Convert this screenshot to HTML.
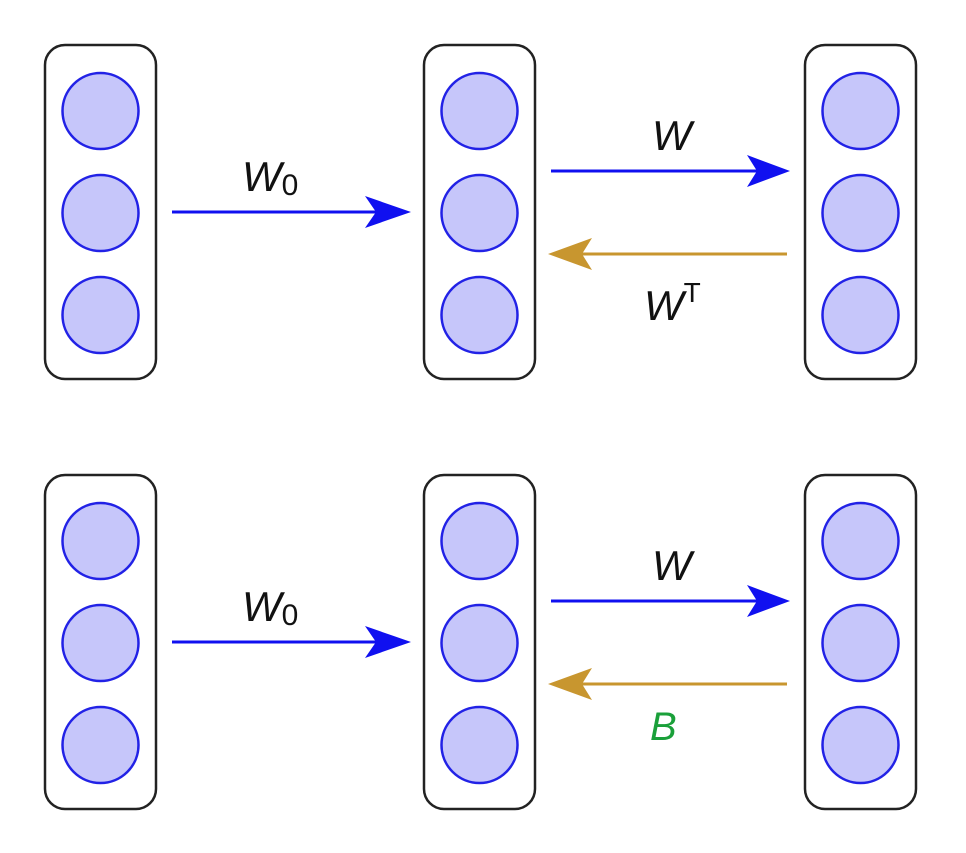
<!DOCTYPE html>
<html><head><style>html,body{margin:0;padding:0;background:#fff}</style></head><body>
<svg width="966" height="848" viewBox="0 0 966 848" xmlns="http://www.w3.org/2000/svg" font-family="Liberation Sans, sans-serif">
<defs>
<g id="col">
<rect x="0" y="0" width="111" height="334" rx="20" fill="#fff" stroke="#222" stroke-width="2.5"/>
<circle cx="55.5" cy="66" r="38" fill="#c6c6fa" stroke="#2222e6" stroke-width="2.5"/>
<circle cx="55.5" cy="168" r="38" fill="#c6c6fa" stroke="#2222e6" stroke-width="2.5"/>
<circle cx="55.5" cy="270" r="38" fill="#c6c6fa" stroke="#2222e6" stroke-width="2.5"/>
</g>
<g id="arr">
<line x1="172" y1="212" x2="380" y2="212" stroke="#1010f0" stroke-width="3"/>
<path d="M411 212 L365 196 L376 212 L365 228 Z" fill="#1010f0"/>
<line x1="551" y1="171" x2="760" y2="171" stroke="#1010f0" stroke-width="3"/>
<path d="M790 171 L747 155 L757 171 L747 187 Z" fill="#1010f0"/>
<line x1="787" y1="254" x2="575" y2="254" stroke="#c8962f" stroke-width="3"/>
<path d="M548 254 L592 238 L582 254 L592 270 Z" fill="#c8962f"/>
</g>
</defs>
<use href="#col" x="45" y="45"/>
<use href="#col" x="424" y="45"/>
<use href="#col" x="805" y="45"/>
<use href="#col" x="45" y="475"/>
<use href="#col" x="424" y="475"/>
<use href="#col" x="805" y="475"/>
<use href="#arr"/>
<use href="#arr" y="430"/>
<text x="242" y="191" font-size="42" font-style="italic" fill="#111">W<tspan font-size="30" font-style="normal" dy="4">0</tspan></text>
<text x="652" y="150" font-size="42" font-style="italic" fill="#111">W</text>
<text x="644" y="320" font-size="42" font-style="italic" fill="#111">W<tspan font-size="28" font-style="normal" dy="-18">T</tspan></text>
<text x="242" y="621" font-size="42" font-style="italic" fill="#111">W<tspan font-size="30" font-style="normal" dy="4">0</tspan></text>
<text x="652" y="580" font-size="42" font-style="italic" fill="#111">W</text>
<text x="650" y="740" font-size="40" font-style="italic" fill="#1aa03a">B</text>
</svg>
</body></html>
